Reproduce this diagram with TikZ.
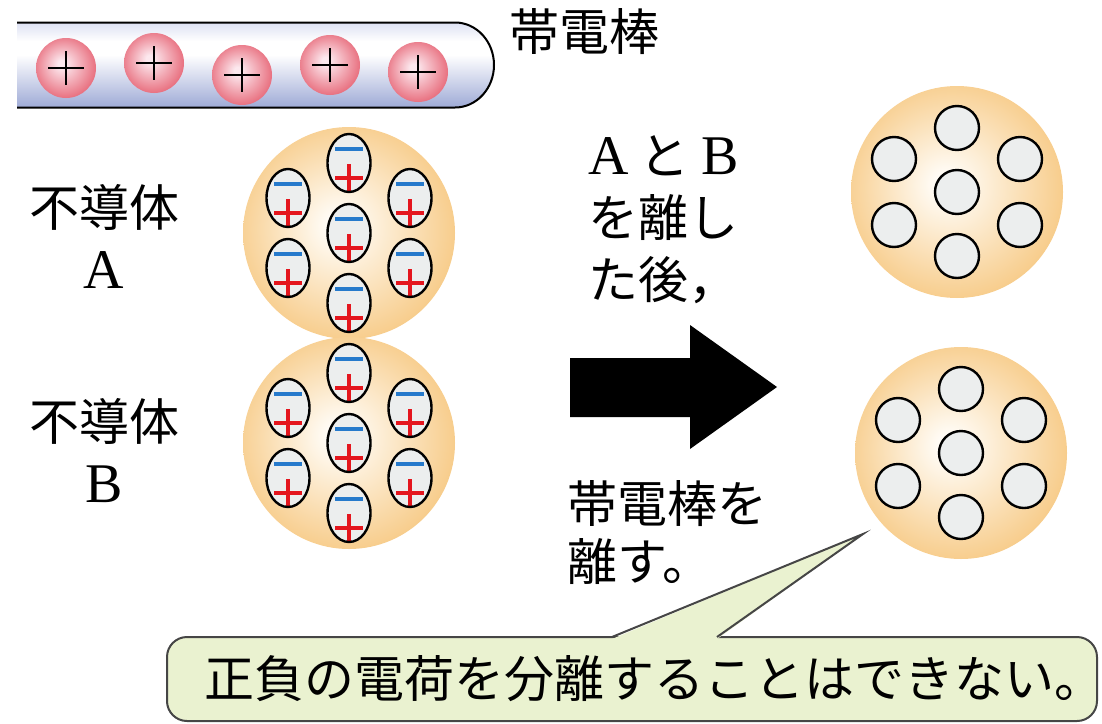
\documentclass[tikz,border=0pt]{standalone}
\usepackage{fontspec}
\setmainfont{Noto Sans CJK JP}
\newfontfamily\lat{Liberation Serif}
\usetikzlibrary{shapes.geometric}

\definecolor{ballin}{RGB}{255,251,244}
\definecolor{ballout}{RGB}{247,203,136}
\definecolor{pinkin}{RGB}{252,232,238}
\definecolor{pinkout}{RGB}{231,104,120}
\definecolor{rodtop}{RGB}{221,225,243}
\definecolor{rodbot}{RGB}{158,170,214}
\definecolor{molgray}{RGB}{236,238,238}
\definecolor{negblue}{RGB}{38,122,204}
\definecolor{posred}{RGB}{228,22,30}
\definecolor{notefill}{RGB}{234,242,208}
\definecolor{noteline}{RGB}{70,70,70}

\pgfdeclareradialshading{ballshade}{\pgfpoint{-3bp}{2bp}}{color(0bp)=(ballin); color(3bp)=(ballin); color(27bp)=(ballout); color(40bp)=(ballout)}
\pgfdeclareradialshading{pinkshade}{\pgfpoint{-4bp}{4bp}}{color(0bp)=(pinkin); color(3bp)=(pinkin); color(28bp)=(pinkout); color(40bp)=(pinkout)}
\pgfdeclareverticalshading{rodshade}{100bp}{color(0bp)=(rodbot); color(25bp)=(rodbot); color(56bp)=(white); color(64bp)=(white); color(75bp)=(rodtop); color(100bp)=(rodtop)}

% serif letters inside the Japanese labels
\newcommand\serifch[1]{{\fontsize{56}{62}\selectfont\lat #1}}

\begin{document}
\begin{tikzpicture}[x=1pt, y=-1pt,
  ball/.style={circle, minimum size=212pt, inner sep=0pt, shading=ballshade},
  dip/.style={ellipse, draw, line width=2.4pt, fill=molgray, inner sep=0pt,
              minimum width=43pt, minimum height=58pt,
              path picture={
                \draw[negblue, line width=4pt] (path picture bounding box.center)
                  ++(-14pt,14pt) -- ++(28pt,0pt);
                \draw[posred, line width=4pt] (path picture bounding box.center)
                  ++(-14pt,-14.5pt) -- ++(28pt,0pt) ++(-14pt,13.5pt) -- ++(0pt,-27pt);
              }},
  mol/.style={circle, draw, line width=2.4pt, fill=molgray, minimum size=44pt, inner sep=0pt},
  rodq/.style={circle, minimum size=60pt, inner sep=0pt, shading=pinkshade,
               path picture={
                 \draw[line width=2.6pt] (path picture bounding box.center)
                   ++(-18pt,0pt) -- ++(36pt,0pt) ++(-18pt,17pt) -- ++(0pt,-34pt);
               }},
  lbl/.style={font=\fontsize{50}{62}\selectfont, inner sep=0pt},
  note/.style={rectangle, rounded corners=20pt, draw=noteline, line width=2pt,
               fill=notefill, minimum width=930pt, minimum height=84pt}
]
  \useasboundingbox (0,0) rectangle (1102,723);

  %-- charged rod
  \shade[shading=rodshade] (17,22.5) -- (455,22.5)
    arc[start angle=-90, end angle=90, x radius=39, y radius=42.5] -- (17,107.5) -- cycle;
  \draw[line width=2pt] (17,22.5) -- (455,22.5)
    arc[start angle=-90, end angle=90, x radius=39, y radius=42.5] -- (17,107.5);
  \foreach \x/\y [count=\i] in {66/68, 154/63, 242/75, 330/65, 418/72}
    \node[rodq] (q\i) at (\x,\y) {};
  \node[lbl] (rodlbl) at (584,32) {帯電棒};

  %-- insulators A and B, polarized
  \node[ball] (A) at (349,233) {};
  \node[ball] (B) at (349,443) {};
  \foreach \s in {A,B}
    \foreach \dx/\dy [count=\i] in {0/-70, -61/-35, 61/-35, 0/0, -61/35, 61/35, 0/70}
      \node[dip] (\s\i) at ([shift={(\dx,\dy)}]\s.center) {};

  \node[lbl, align=center] (labA) at (104,236) {不導体\\\serifch{A}};
  \node[lbl, align=center] (labB) at (104,451) {不導体\\\serifch{B}};

  %-- after separation
  \node[ball] (C) at (957,192) {};
  \node[ball] (D) at (961,453) {};
  \foreach \s in {C,D}
    \foreach \dx/\dy [count=\i] in {0/-64, -63/-33, 63/-33, 0/0, -63/33, 63/33, 0/64}
      \node[mol] (\s\i) at ([shift={(\dx,\dy)}]\s.center) {};

  %-- big arrow and steps
  \fill (570,358) -- (690,358) -- (690,325) -- (777,387) -- (690,449) -- (690,417) -- (570,417) -- cycle;
  \node[lbl, anchor=west, align=left] (step1) at (588,220)
    {\serifch{A} と \serifch{B}\\を離し\\た後，};
  \node[lbl, anchor=west, align=left, font=\fontsize{50}{58}\selectfont] (step2) at (567,533)
    {帯電棒を\\離す。};

  %-- callout
  \node[note] (note) at (632,679) {};
  \coordinate (pl) at (612,637);
  \coordinate (pr) at (717,637);
  \coordinate (tip) at (863,534);
  \fill[notefill] ([yshift=-2pt]pl) -- (tip) -- ([yshift=-2pt]pr) -- cycle;
  \draw[noteline, line width=2pt] (pl) -- (tip) -- (pr);
  \node[lbl] (msg) at ([xshift=22pt]note.center) {正負の電荷を分離することはできない。};
\end{tikzpicture}
\end{document}
